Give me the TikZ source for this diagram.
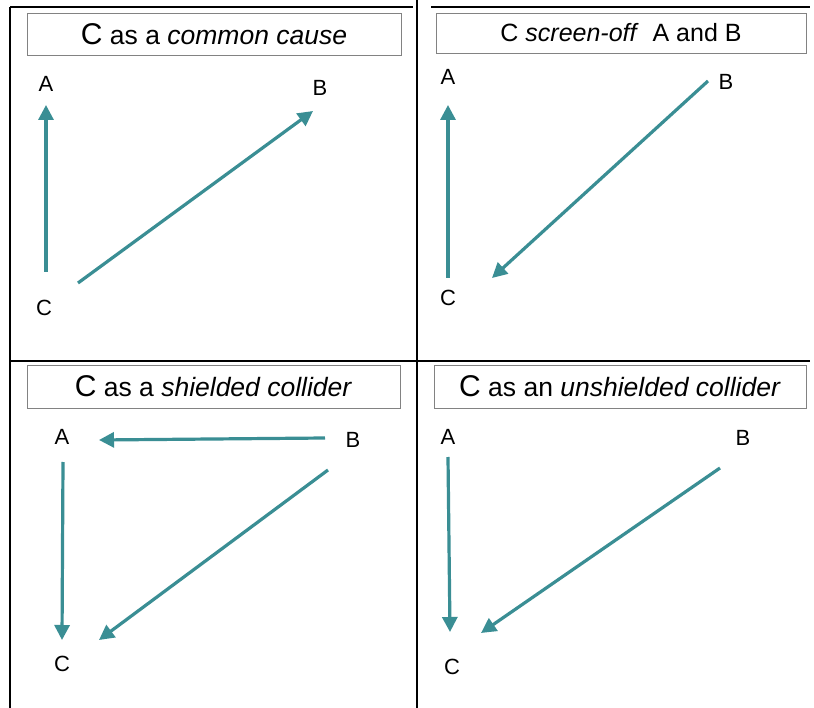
\documentclass[tikz,border=0pt]{standalone}
\usepackage{fontspec}
\setmainfont{Liberation Sans}
\usetikzlibrary{arrows.meta}
\definecolor{tealarr}{RGB}{58,142,148}
\definecolor{boxgray}{RGB}{130,130,130}
\begin{document}
\begin{tikzpicture}[x=1pt,y=-1pt,
  lbl/.style={font=\fontsize{22}{24}\selectfont, inner sep=0pt},
  ttl/.style={draw=boxgray, line width=0.8pt, inner sep=0pt, font=\fontsize{26.5}{28}\selectfont},
  arr/.style={draw=tealarr, line width=3.2pt, -{Triangle[length=15pt,width=15pt,fill=tealarr]}},
  grid/.style={line width=1.8pt, black}]
\useasboundingbox (0,0) rectangle (814,708);
\fill[white] (0,0) rectangle (814,708);
% table grid
\draw[grid] (10,7) -- (10,708);
\draw[grid] (417,0) -- (417,708);
\draw[grid] (10,7) -- (413,7);
\draw[grid] (431,7) -- (810,7);
\draw[grid] (10,361) -- (810,361);
% titles
\node[ttl, minimum width=374pt, minimum height=42pt] (t1) at (214,34)
  {{\fontsize{30}{30}\selectfont C} as a \textit{common cause}};
\node[ttl, minimum width=370pt, minimum height=40pt, font=\fontsize{25}{26}\selectfont] (t2) at (621,33)
  {C \textit{screen-off}\ \ A and B};
\node[ttl, minimum width=373pt, minimum height=43pt] (t3) at (213.5,386.5)
  {{\fontsize{30}{30}\selectfont C} as a \textit{shielded collider}};
\node[ttl, minimum width=372pt, minimum height=43pt] (t4) at (620,386.5)
  {{\fontsize{30}{30}\selectfont C} as an \textit{unshielded collider}};
% panel 1
\node[lbl] (A1) at (46,84) {A};
\node[lbl] (B1) at (320,88) {B};
\node[lbl] (C1) at (44,308) {C};
\coordinate (p1a) at (46,272); \coordinate (p1b) at (46,105);
\coordinate (p1c) at (78,283); \coordinate (p1d) at (313,111);
\draw[arr] (p1a) -- (p1b);
\draw[arr] (p1c) -- (p1d);
% panel 2
\node[lbl] (A2) at (448,77) {A};
\node[lbl] (B2) at (726,82) {B};
\node[lbl] (C2) at (448,298) {C};
\coordinate (p2a) at (448,278); \coordinate (p2b) at (448,105);
\coordinate (p2c) at (708,81); \coordinate (p2d) at (492,278);
\draw[arr] (p2a) -- (p2b);
\draw[arr] (p2c) -- (p2d);
% panel 3
\node[lbl] (A3) at (62,437) {A};
\node[lbl] (B3) at (353,440) {B};
\node[lbl] (C3) at (62,664) {C};
\coordinate (p3a) at (325,438); \coordinate (p3b) at (99,440);
\coordinate (p3c) at (63,462); \coordinate (p3d) at (62,640);
\coordinate (p3e) at (328,470); \coordinate (p3f) at (99,640);
\draw[arr] (p3a) -- (p3b);
\draw[arr] (p3c) -- (p3d);
\draw[arr] (p3e) -- (p3f);
% panel 4
\node[lbl] (A4) at (448,437) {A};
\node[lbl] (B4) at (743,438) {B};
\node[lbl] (C4) at (452,667) {C};
\coordinate (p4a) at (448,457); \coordinate (p4b) at (450,632);
\coordinate (p4c) at (720,468); \coordinate (p4d) at (481,633);
\draw[arr] (p4a) -- (p4b);
\draw[arr] (p4c) -- (p4d);
\end{tikzpicture}
\end{document}
